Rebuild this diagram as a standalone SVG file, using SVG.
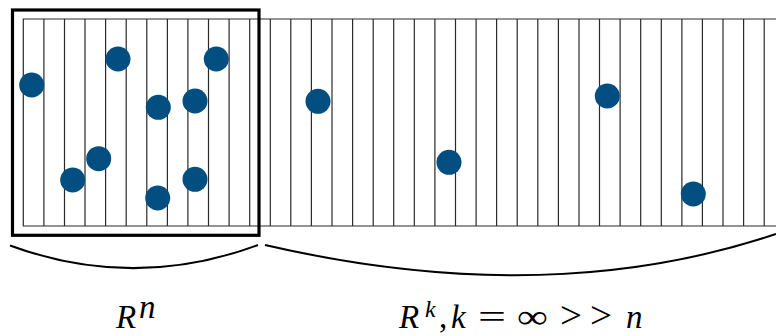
<svg xmlns="http://www.w3.org/2000/svg" width="776" height="336" viewBox="0 0 776 336">
<style>
.grid{stroke:#2a2a2a;stroke-width:1.2;fill:none}
.box{stroke:#000;stroke-width:3.2;fill:none}
.brace{stroke:#000;stroke-width:2;fill:none}
.dot{fill:#024e80}
.m{font-family:"Liberation Serif","Times New Roman",serif;font-size:33px;fill:#000}
.i{font-style:italic}
.sup{font-size:24px}
.sym{font-size:34px}
.gt{font-size:37px}
</style>
<rect width="776" height="336" fill="#fff"/>
<g id="strip">
<path class="grid" d="M776,19H23.3V226H776"/>
<path class="grid" d="M43.9,19V226M64.5,19V226M85,19V226M105.6,19V226M126.2,19V226M146.8,19V226M167.4,19V226M187.9,19V226M208.5,19V226M229.1,19V226M249.7,19V226M270.3,19V226M290.8,19V226M311.4,19V226M332,19V226M352.6,19V226M373.2,19V226M393.7,19V226M414.3,19V226M434.9,19V226M455.5,19V226M476.1,19V226M496.6,19V226M517.2,19V226M537.8,19V226M558.4,19V226M579,19V226M599.5,19V226M620.1,19V226M640.7,19V226M661.3,19V226M681.9,19V226M702.4,19V226M723,19V226M743.6,19V226M764.2,19V226"/>
</g>
<g id="window">
<rect class="box" x="12.5" y="10" width="246.5" height="225.3"/>
</g>
<g id="points">
<circle class="dot" cx="31.7" cy="85" r="12.5"/>
<circle class="dot" cx="118" cy="59" r="12.5"/>
<circle class="dot" cx="216.3" cy="59" r="12.5"/>
<circle class="dot" cx="158.3" cy="107.3" r="12.5"/>
<circle class="dot" cx="195" cy="101" r="12.5"/>
<circle class="dot" cx="72.7" cy="180" r="12.5"/>
<circle class="dot" cx="98.7" cy="158.7" r="12.5"/>
<circle class="dot" cx="157.7" cy="198" r="12.5"/>
<circle class="dot" cx="195" cy="179.3" r="12.5"/>
<circle class="dot" cx="318" cy="101.3" r="12.5"/>
<circle class="dot" cx="449" cy="162.3" r="12.5"/>
<circle class="dot" cx="607.3" cy="96" r="12.5"/>
<circle class="dot" cx="693.3" cy="194" r="12.5"/>
</g>
<g id="braces">
<path class="brace" d="M10,245.5Q134,291 258,245"/>
<path class="brace" d="M265,245Q548,310.5 776,234"/>
</g>
<g id="label-n">
<text class="m i" x="116" y="328">R</text>
<text class="m i" x="139" y="318">n</text>
</g>
<g id="label-k">
<text class="m i" x="399" y="328">R</text>
<text class="m i sup" x="425" y="317">k</text>
<text class="m" x="439" y="328">,</text>
<text class="m i" x="451" y="328">k</text>
<text class="m sym" x="478" y="328" textLength="28" lengthAdjust="spacingAndGlyphs">=</text>
<text class="m sym" x="517" y="328" textLength="31" lengthAdjust="spacingAndGlyphs">∞</text>
<text class="m gt" x="560" y="328" textLength="22" lengthAdjust="spacingAndGlyphs">&gt;</text>
<text class="m gt" x="590" y="328" textLength="22" lengthAdjust="spacingAndGlyphs">&gt;</text>
<text class="m i" x="626" y="328">n</text>
</g>
</svg>
